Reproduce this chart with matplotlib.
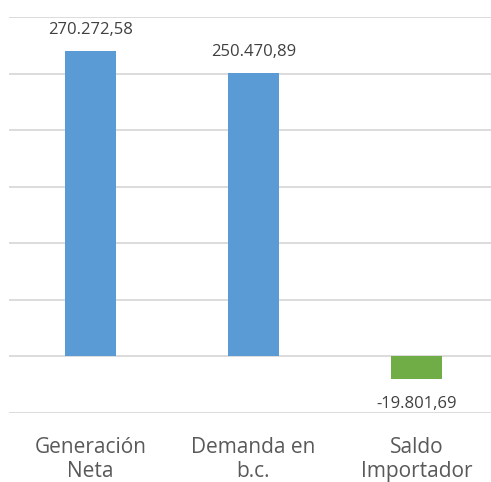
import matplotlib
matplotlib.use("Agg")
import matplotlib.pyplot as plt
from matplotlib.ticker import MultipleLocator

categories = ["Generación\nNeta", "Demanda en\nb.c.", "Saldo\nImportador"]
values = [270272.58, 250470.89, -19801.69]
labels = ["270.272,58", "250.470,89", "-19.801,69"]
colors = ["#5B9BD5", "#5B9BD5", "#70AD47"]

plt.rcParams['font.family'] = ['Open Sans', 'DejaVu Sans']

fig = plt.figure(figsize=(4.91, 4.82), dpi=100)
W, H = 491, 482
left, right = 9, 498
top, bottom = 17, 413
ax = fig.add_axes([left / W, (H - bottom) / H, (right - left) / W, (bottom - top) / H])

x = list(range(len(categories)))
ax.bar(x, values, width=0.313, color=colors, zorder=3)
ax.set_xlim(-0.5, len(categories) - 0.5)
ax.set_ylim(-50000, 300000)
ax.yaxis.set_major_locator(MultipleLocator(50000))
ax.grid(axis='y', color='#D9D9D9', linewidth=1.3, zorder=0)
for s in ax.spines.values():
    s.set_visible(False)
ax.tick_params(left=False, bottom=False, labelleft=False, labelbottom=False)

for xi, v, lab in zip(x, values, labels):
    if v >= 0:
        ax.annotate(lab, (xi, v), xytext=(0, 15), textcoords='offset points',
                    ha='center', va='center', fontsize=12, color='#404040')
    else:
        ax.annotate(lab, (xi, v), xytext=(0, -18), textcoords='offset points',
                    ha='center', va='center', fontsize=12, color='#404040')

for xi, cat in zip(x, categories):
    ax.annotate(cat, (xi, -50000), xytext=(0, -17), textcoords='offset points',
                ha='center', va='top', fontsize=15, color='#595959',
                linespacing=1.2, annotation_clip=False)

fig.savefig("out.png", dpi=100)
